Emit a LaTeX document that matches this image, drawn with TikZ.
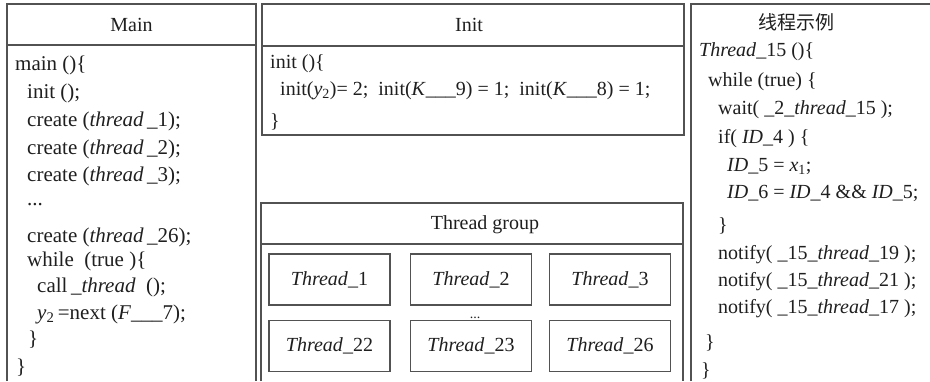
\documentclass[tikz,border=0pt]{standalone}
\usepackage{fontspec}
\setmainfont{Liberation Serif}
\newfontfamily\cjk{Noto Sans CJK SC}
\begin{document}
\begin{tikzpicture}[x=1pt,y=-1pt,
  frame/.style={draw=black!68, line width=1.2pt},
  txt/.style={anchor=mid west, inner sep=0pt, font=\fontsize{20}{24}\selectfont, text=black!88},
  mtxt/.style={txt, font=\fontsize{21}{25}\selectfont},
  ttl/.style={anchor=mid, inner sep=0pt, font=\fontsize{20}{24}\selectfont, text=black!88},
  tbox/.style={draw=black!68, line width=1.2pt, minimum width=121pt, minimum height=51pt, inner sep=0pt, font=\fontsize{20}{24}\selectfont, text=black!88}]
\useasboundingbox (0,0) rectangle (930,381);
\fill[white] (0,0) rectangle (930,381);

% ---------------- Main panel ----------------
\draw[frame] (7,381) -- (7,4) -- (256,4) -- (256,381);
\draw[frame] (7,45) -- (256,45);
\node[ttl] (mainT) at (131.5,29) {Main};
\node[mtxt] (m1)  at (15,68)  {main ()\{};
\node[mtxt] (m2)  at (27,96)  {init ();};
\node[mtxt] (m3)  at (27,124) {create (\textit{thread}\,\_1);};
\node[mtxt] (m4)  at (27,152) {create (\textit{thread}\,\_2);};
\node[mtxt] (m5)  at (27,179) {create (\textit{thread}\,\_3);};
\node[mtxt] (m6)  at (27,203) {...};
\node[mtxt] (m7)  at (27,240) {create (\textit{thread}\,\_26);};
\node[mtxt] (m8)  at (27,264) {while\ \ (true )\{};
\node[mtxt] (m9)  at (37,290) {call\,\_\textit{thread}\ \ ();};
\node[mtxt] (m10) at (37,317) {\textit{y}\textsubscript{2}\,=next (\textit{F}\_\_\_7);};
\node[mtxt] (m11) at (28,343) {\}};
\node[mtxt] (m12) at (16,371) {\}};

% ---------------- Init box ----------------
\draw[frame] (262,4) rectangle (684,135);
\draw[frame] (262,46) -- (684,46);
\node[ttl] (initT) at (469,29) {Init};
\node[txt] (i1) at (270,66)  {init ()\{};
\node[txt] (i2) at (280,93)  {init(\textit{y}\textsubscript{2})= 2;\ \ init(\textit{K}\_\_\_9) = 1;\ \ init(\textit{K}\_\_\_8) = 1;};
\node[txt] (i3) at (270,125) {\}};

% ---------------- Thread group ----------------
\draw[frame] (261,381) -- (261,203) -- (683,203) -- (683,381);
\draw[frame] (261,244) -- (683,244);
\node[ttl] (tgT) at (485,227) {Thread group};
\node[tbox] (t1)  at (329.5,279.5) {\textit{Thread}\_1};
\node[tbox] (t2)  at (471,279.5)   {\textit{Thread}\_2};
\node[tbox] (t3)  at (610,279.5)   {\textit{Thread}\_3};
\node[tbox] (t22) at (329.5,346)   {\textit{Thread}\_22};
\node[tbox] (t23) at (471,346)     {\textit{Thread}\_23};
\node[tbox] (t26) at (610,346)     {\textit{Thread}\_26};
\node[anchor=base, inner sep=0pt, font=\fontsize{14}{16}\selectfont, text=black!88] (tdots) at (475,318) {...};

% ---------------- Thread example panel ----------------
\draw[frame] (691,381) -- (691,4) -- (930,4);
\node[anchor=mid, inner sep=0pt, font=\cjk\fontsize{19}{22}\selectfont, text=black!88] (exT) at (796,27) {线程示例};
\node[txt] (r1)  at (699,54)  {\textit{Thread}\_15 ()\{};
\node[txt] (r2)  at (708,84)  {while (true) \{};
\node[txt] (r3)  at (718,112) {wait( \_2\_\textit{thread}\_15 );};
\node[txt] (r4)  at (718,141) {if( \textit{ID}\_4 ) \{};
\node[txt] (r5)  at (727,169) {\textit{ID}\_5 = \textit{x}\textsubscript{1};};
\node[txt] (r6)  at (727,196) {\textit{ID}\_6 = \textit{ID}\_4 \&\& \textit{ID}\_5;};
\node[txt] (r7)  at (718,229) {\}};
\node[txt] (r8)  at (718,257) {notify( \_15\_\textit{thread}\_19 );};
\node[txt] (r9)  at (718,284) {notify( \_15\_\textit{thread}\_21 );};
\node[txt] (r10) at (718,311) {notify( \_15\_\textit{thread}\_17 );};
\node[txt] (r11) at (705,346) {\}};
\node[txt] (r12) at (701,374) {\}};
\end{tikzpicture}
\end{document}
